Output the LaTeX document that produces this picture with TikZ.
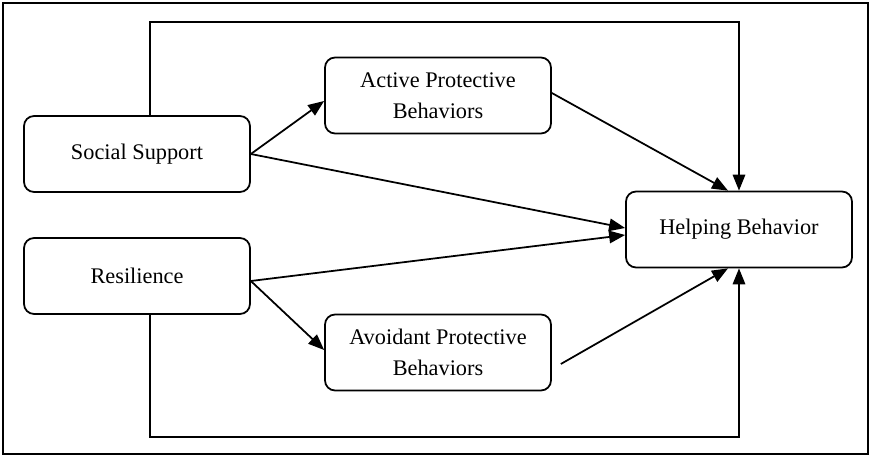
\documentclass[tikz,border=0pt]{standalone}
\usepackage{fontspec}
\setmainfont{Liberation Serif}
\usetikzlibrary{arrows.meta}

\tikzset{
  varbox/.style={draw, line width=1pt, rounded corners=0.2cm, fill=white,
    minimum width=4.52cm, minimum height=1.52cm, align=center,
    font=\fontsize{12.7}{17.5}\selectfont},
  path/.style={line width=1pt, -{Triangle[length=0.32cm,width=0.25cm]}}
}

\begin{document}
\begin{tikzpicture}[x=0.02cm,y=-0.02cm]
\useasboundingbox (0,0) rectangle (870,456);
\draw[line width=0.8pt] (3,3) rectangle (868,454);
% variables
\node[varbox] (soc) at (137,154) {Social Support};
\node[varbox] (res) at (137,276) {Resilience};
\node[varbox] (act) at (438,95.5) {Active Protective\\Behaviors};
\node[varbox] (avo) at (438,352.5) {Avoidant Protective\\Behaviors};
\node[varbox] (help) at (739,229.5) {Helping Behavior};
% bends of the outer paths
\coordinate (topbend) at (150,22);
\coordinate (botbend) at (150,437);
% paths
\draw[path] (soc.north -| topbend) -- (topbend) -| (help.north);
\draw[path] (res.south -| botbend) -- (botbend) -| (help.south);
\draw[path] (soc.east) -- ([yshift=-0.11cm]act.west);
\draw[path] (soc.east) -- ([yshift=0.03cm]help.west);
\draw[path] ([yshift=-0.1cm]res.east) -- ([yshift=-0.11cm]help.west);
\draw[path] ([yshift=-0.1cm]res.east) -- ([yshift=0.05cm]avo.west);
\draw[path] ([yshift=0.05cm]act.east) -- ([xshift=-0.22cm]help.north);
\draw[path] ([xshift=0.18cm,yshift=-0.23cm]avo.east) -- ([xshift=-0.22cm]help.south);
\end{tikzpicture}
\end{document}
